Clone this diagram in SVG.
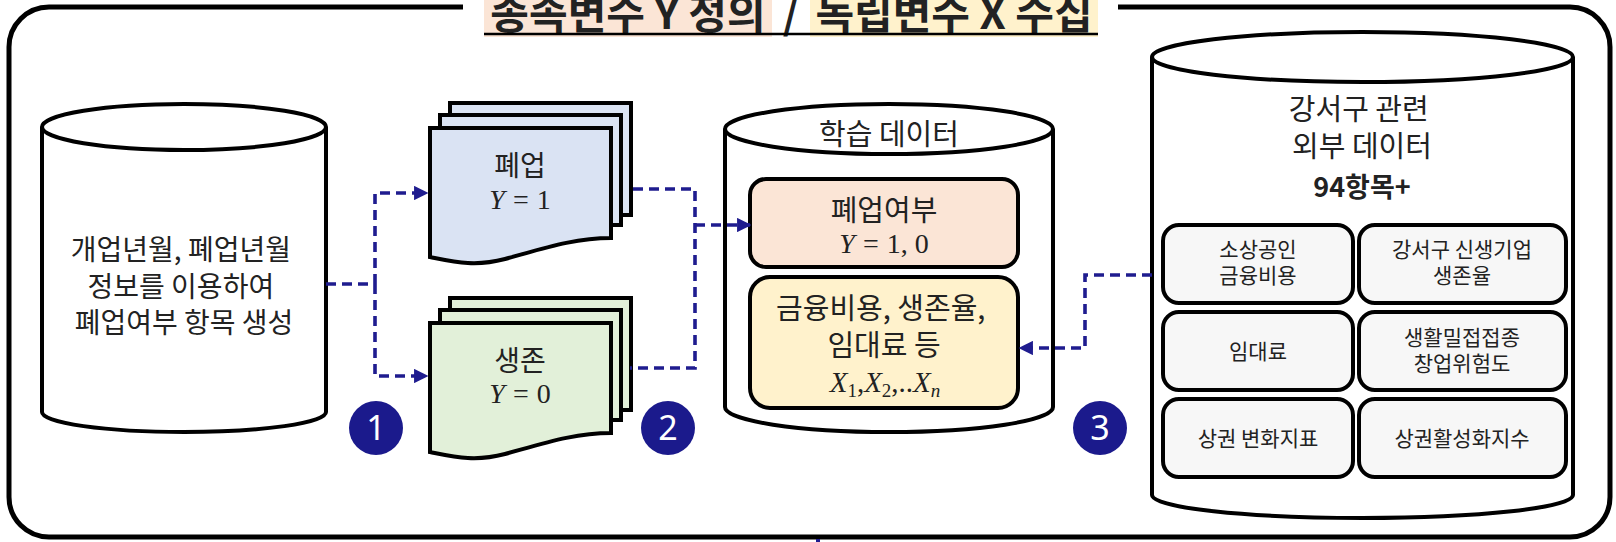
<svg xmlns="http://www.w3.org/2000/svg" width="1616" height="542" viewBox="0 0 1616 542">
  <defs>
    <style>
      .kr { font-family: "Noto Sans CJK KR", "Noto Sans", sans-serif; fill: #222; }
      .math { font-family: "Liberation Serif", "DejaVu Serif", serif; fill: #222; }
      .it { font-style: italic; }
      .shape { stroke: #000; stroke-width: 4; }
      .dash { fill: none; stroke: #1F1C8F; stroke-width: 3.6; stroke-dasharray: 10 6; }
      .badge circle { fill: #1B1A8C; }
      .badge text { font-family: "Noto Sans", "Open Sans", sans-serif; fill: #fff; font-size: 34px; text-anchor: middle; }
      .cell rect { fill: #F7F7F7; stroke: #000; stroke-width: 4; }
      .cell text { font-size: 21px; text-anchor: middle; }
    </style>
    <marker id="arr" viewBox="0 0 10 10" refX="9" refY="5" markerWidth="4" markerHeight="4" orient="auto" markerUnits="strokeWidth">
      <path d="M0 0 L10 5 L0 10 Z" fill="#1F1C8F"/>
    </marker>
  </defs>
  <rect width="1616" height="542" fill="#fff"/>

  <!-- outer frame -->
  <g id="frame">
    <path d="M463 7 H49 A40 40 0 0 0 9 47 V497 A40 40 0 0 0 49 537 H1570 A40 40 0 0 0 1610 497 V47 A40 40 0 0 0 1570 7 H1118" fill="none" stroke="#000" stroke-width="5"/>
  </g>

  <!-- title -->
  <g id="title">
    <rect x="484" y="0" width="288" height="37" fill="#FBE5D6"/>
    <rect x="810" y="0" width="288" height="37" fill="#FFF2CC"/>
    <text class="kr" x="628" y="29" font-size="42" font-weight="bold" text-anchor="middle" fill="#000">종속변수 Y 정의</text>
    <text class="kr" x="791" y="29" font-size="42" font-weight="bold" text-anchor="middle" fill="#000">/</text>
    <text class="kr" x="954" y="29" font-size="42" font-weight="bold" text-anchor="middle" fill="#000">독립변수 X 수집</text>
    <line x1="484" y1="34" x2="1098" y2="34" stroke="#000" stroke-width="2.5"/>
  </g>

  <!-- left cylinder -->
  <g id="source">
    <path class="shape" d="M42 127 V412 A142 20 0 0 0 326 412 V127" fill="#fff"/>
    <ellipse class="shape" cx="184" cy="127" rx="142" ry="23" fill="#fff"/>
    <text class="kr" font-size="28" text-anchor="middle">
      <tspan x="184" y="260">개업년월, 폐업년월</tspan>
      <tspan x="184" y="297">정보를 이용하여</tspan>
      <tspan x="184" y="333">폐업여부 항목 생성</tspan>
    </text>
  </g>

  <!-- closed docs -->
  <g id="closed">
    <rect class="shape" x="450" y="103" width="181" height="112" fill="#DAE3F3"/>
    <rect class="shape" x="440" y="115" width="181" height="110" fill="#DAE3F3"/>
    <path class="shape" d="M430 128 H611 V238 C575 238 545 248 505 259 C475 267 455 262 430 257 Z" fill="#DAE3F3"/>
    <text class="kr" x="520" y="176" font-size="28" text-anchor="middle">폐업</text>
    <text class="math" x="520" y="209" font-size="28" text-anchor="middle"><tspan class="it">Y</tspan><tspan dx="8">=</tspan><tspan dx="8">1</tspan></text>
  </g>

  <!-- survived docs -->
  <g id="survived">
    <rect class="shape" x="450" y="298" width="181" height="112" fill="#E2F0D9"/>
    <rect class="shape" x="440" y="310" width="181" height="110" fill="#E2F0D9"/>
    <path class="shape" d="M430 323 H611 V433 C575 433 545 443 505 454 C475 462 455 457 430 452 Z" fill="#E2F0D9"/>
    <text class="kr" x="520" y="371" font-size="28" text-anchor="middle">생존</text>
    <text class="math" x="520" y="403" font-size="28" text-anchor="middle"><tspan class="it">Y</tspan><tspan dx="8">=</tspan><tspan dx="8">0</tspan></text>
  </g>

  <!-- training data cylinder -->
  <g id="training">
    <path class="shape" d="M725 129 V407 A164 25 0 0 0 1053 407 V129" fill="#fff"/>
    <ellipse class="shape" cx="889" cy="129" rx="164" ry="25" fill="#fff"/>
    <text class="kr" x="889" y="145" font-size="29" text-anchor="middle">학습 데이터</text>
    <g id="target">
      <rect class="shape" x="750" y="179" width="268" height="88" rx="16" fill="#FBE5D6"/>
      <text class="kr" x="884" y="221" font-size="29" text-anchor="middle">폐업여부</text>
      <text class="math" x="884" y="253" font-size="28" text-anchor="middle"><tspan class="it">Y</tspan><tspan dx="8">=</tspan><tspan dx="8">1, 0</tspan></text>
    </g>
    <g id="features">
      <rect class="shape" x="750" y="277" width="268" height="131" rx="20" fill="#FFF2CC"/>
      <text class="kr" font-size="29" text-anchor="middle">
        <tspan x="884" y="319">금융비용, 생존율,</tspan>
        <tspan x="884" y="356">임대료 등</tspan>
      </text>
      <text class="math" x="885" y="392" font-size="29" text-anchor="middle"><tspan class="it">X</tspan><tspan font-size="19" dy="5">1</tspan><tspan dy="-5">,</tspan><tspan class="it">X</tspan><tspan font-size="19" dy="5">2</tspan><tspan dy="-5">,..</tspan><tspan class="it">X</tspan><tspan class="it" font-size="19" dy="5">n</tspan></text>
    </g>
  </g>

  <!-- external data cylinder -->
  <g id="external">
    <path class="shape" d="M1152 57 V495 A210.5 23 0 0 0 1573 495 V57" fill="#fff"/>
    <ellipse class="shape" cx="1362.5" cy="57" rx="210.5" ry="25" fill="#fff"/>
    <text class="kr" font-size="29" text-anchor="middle">
      <tspan x="1362" y="120">강서구 관련</tspan>
      <tspan x="1362" y="157">외부 데이터</tspan>
    </text>
    <text class="kr" x="1362" y="197" font-size="27" font-weight="bold" text-anchor="middle" fill="#000">94항목+</text>
    <g class="cell" id="c1"><rect x="1163" y="225" width="190" height="78" rx="16"/><text class="kr"><tspan x="1258" y="257">소상공인</tspan><tspan x="1258" y="283">금융비용</tspan></text></g>
    <g class="cell" id="c2"><rect x="1359" y="225" width="207" height="78" rx="16"/><text class="kr"><tspan x="1462" y="257">강서구 신생기업</tspan><tspan x="1462" y="283">생존율</tspan></text></g>
    <g class="cell" id="c3"><rect x="1163" y="312" width="190" height="78" rx="16"/><text class="kr" x="1258" y="359">임대료</text></g>
    <g class="cell" id="c4"><rect x="1359" y="312" width="207" height="78" rx="16"/><text class="kr"><tspan x="1462" y="345">생활밀접접종</tspan><tspan x="1462" y="371">창업위험도</tspan></text></g>
    <g class="cell" id="c5"><rect x="1163" y="399" width="190" height="78" rx="16"/><text class="kr" x="1258" y="446">상권 변화지표</text></g>
    <g class="cell" id="c6"><rect x="1359" y="399" width="207" height="78" rx="16"/><text class="kr" x="1462" y="446">상권활성화지수</text></g>
  </g>

  <!-- connectors -->
  <g id="connectors">
    <path class="dash" d="M326 284 H375"/>
    <path class="dash" d="M375 284 V193 H427" marker-end="url(#arr)"/>
    <path class="dash" d="M375 284 V376 H427" marker-end="url(#arr)"/>
    <path class="dash" d="M633 189 H695 V368 H630"/>
    <path class="dash" d="M695 225 H750" marker-end="url(#arr)"/>
    <path class="dash" d="M1152 275 H1085 V348 H1020" marker-end="url(#arr)"/>
    <rect x="816" y="539" width="4" height="3" fill="#1F1C8F"/>
  </g>

  <!-- badges -->
  <g class="badge" id="b1"><circle cx="376" cy="428" r="27"/><text x="376" y="440">1</text></g>
  <g class="badge" id="b2"><circle cx="668" cy="428" r="27"/><text x="668" y="440">2</text></g>
  <g class="badge" id="b3"><circle cx="1100" cy="428" r="27"/><text x="1100" y="440">3</text></g>
</svg>
